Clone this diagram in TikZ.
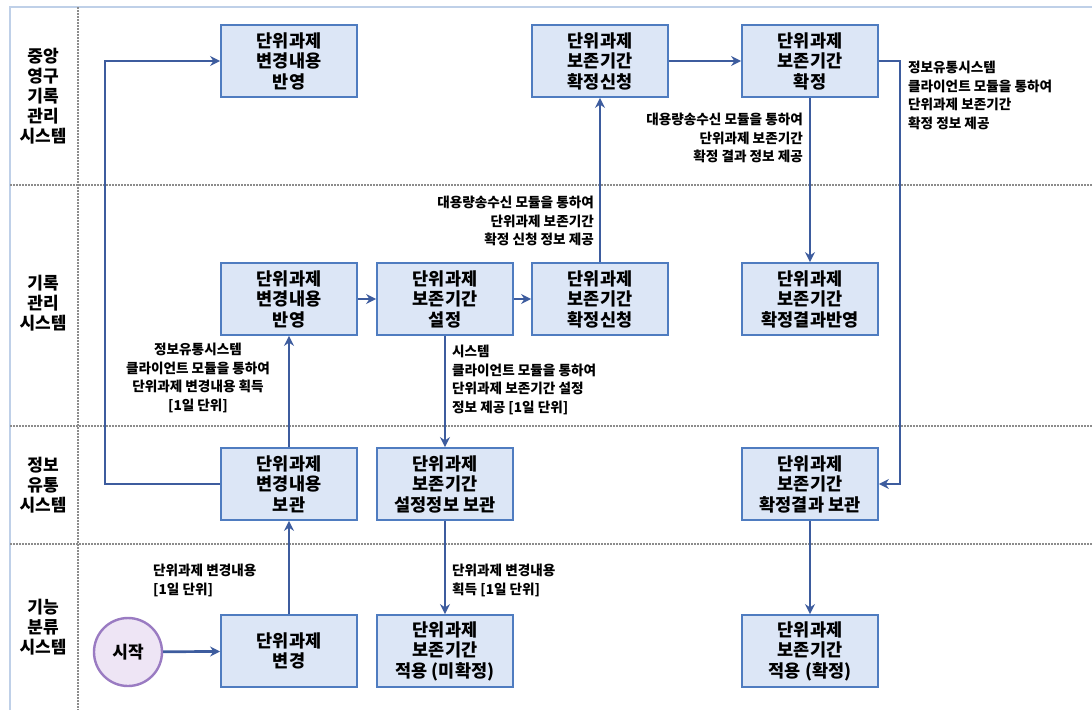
\documentclass[tikz,border=0pt]{standalone}
\usepackage{fontspec}
\setmainfont{Noto Sans CJK KR}
\usetikzlibrary{positioning,arrows.meta}
\definecolor{boxfill}{HTML}{DCE6F6}
\definecolor{boxline}{HTML}{4F7CC0}
\definecolor{flowline}{HTML}{3D5C9E}
\definecolor{startfill}{HTML}{EEE5F5}
\definecolor{startline}{HTML}{9A7BC2}
\definecolor{frameline}{HTML}{BFD0E8}
\begin{document}
\begin{tikzpicture}[x=1pt,y=-1pt,
		task/.style={draw=boxline,fill=boxfill,line width=1.8pt,minimum width=136pt,
			minimum height=72pt,align=center,inner sep=2pt,
			font=\bfseries\fontsize{17.5}{20.5}\selectfont},
		lane/.style={align=center,font=\bfseries\fontsize{17}{20}\selectfont},
		note/.style={inner sep=0pt,font=\bfseries\fontsize{13.6}{18.5}\selectfont},
		flow/.style={draw=flowline,line width=2.7pt,-{Stealth[length=10pt,width=10pt]}},
		sep/.style={draw=gray!90,line width=1.3pt,dash pattern=on 1.6pt off 1.4pt}
	]
	\useasboundingbox (0,0) rectangle (1092,710);
	% swimlanes
	\draw[frameline,line width=2.2pt] (10,710) -- (10,7) -- (1092,7);
	\draw[sep] (78,7) -- (78,710);
	\draw[sep] (10,185) -- (1092,185);
	\draw[sep] (10,426) -- (1092,426);
	\draw[sep] (10,544) -- (1092,544);
	\node[lane] (cenlane) at (43,96) {중앙\\영구\\기록\\관리\\시스템};
	\node[lane] (reclane) at (43,303) {기록\\관리\\시스템};
	\node[lane] (inflane) at (43,485) {정보\\유통\\시스템};
	\node[lane] (funlane) at (43,627) {기능\\분류\\시스템};

	% tasks
	\node[task] (cenchg) at (289,61) {단위과제\\변경내용\\반영};
	\node[task] (cenreq) at (600,61) {단위과제\\보존기간\\확정신청};
	\node[task] (cenfix) at (810,61) {단위과제\\보존기간\\확정};
	\node[task] (recchg) at (289,299) {단위과제\\변경내용\\반영};
	\node[task] (recset) at (445,299) {단위과제\\보존기간\\설정};
	\node[task] (recreq) at (600,299) {단위과제\\보존기간\\확정신청};
	\node[task] (recres) at (810,299) {단위과제\\보존기간\\확정결과반영};
	\node[task] (infchg) at (289,484) {단위과제\\변경내용\\보관};
	\node[task] (infset) at (445,484) {단위과제\\보존기간\\설정정보 보관};
	\node[task] (infres) at (810,484) {단위과제\\보존기간\\확정결과 보관};
	\node[task] (funchg) at (289,651) {단위과제\\변경};
	\node[task] (funtmp) at (445,651) {단위과제\\보존기간\\적용 (미확정)};
	\node[task] (funfix) at (810,651) {단위과제\\보존기간\\적용 (확정)};
	\node[circle,draw=startline,fill=startfill,line width=2.4pt,minimum size=68pt,
		font=\bfseries\fontsize{17}{20}\selectfont] (start) at (128,652) {시작};

	% flows
	\draw[flow] (start) -- (funchg);
	\draw[flow] (funchg) -- (infchg);
	\draw[flow] (infchg) -- (recchg);
	\draw[flow] (infchg.west) -- ++(-115,0) |- (cenchg.west);
	\draw[flow] (recchg) -- (recset);
	\draw[flow] (recset) -- (recreq);
	\draw[flow] (recset) -- (infset);
	\draw[flow] (infset) -- (funtmp);
	\draw[flow] (recreq) -- (cenreq);
	\draw[flow] (cenreq) -- (cenfix);
	\draw[flow] (cenfix) -- (recres);
	\draw[flow] (cenfix.east) -- ++(21,0) |- (infres.east);
	\draw[flow] (infres) -- (funfix);

	% flow notes
	\node[note,align=left,anchor=north west] (n1) at (153,564) {단위과제 변경내용\\{[1일 단위]}};
	\node[note,align=center,anchor=north] (n2) at (198,343) {정보유통시스템\\클라이언트 모듈을 통하여\\단위과제 변경내용 획득\\{[1일 단위]}};
	\node[note,align=left,anchor=north west] (n3) at (452,345) {시스템\\클라이언트 모듈을 통하여\\단위과제 보존기간 설정\\정보 제공 [1일 단위]};
	\node[note,align=left,anchor=north west] (n4) at (452,564) {단위과제 변경내용\\획득 [1일 단위]};
	\node[note,align=right,anchor=north east] (n5) at (594,196) {대용량송수신 모듈을 통하여\\단위과제 보존기간\\확정 신청 정보 제공};
	\node[note,align=right,anchor=north east] (n6) at (803,113) {대용량송수신 모듈을 통하여\\단위과제 보존기간\\확정 결과 정보 제공};
	\node[note,align=left,anchor=north west] (n7) at (908,61) {정보유통시스템\\클라이언트 모듈을 통하여\\단위과제 보존기간\\확정 정보 제공};
\end{tikzpicture}
\end{document}
